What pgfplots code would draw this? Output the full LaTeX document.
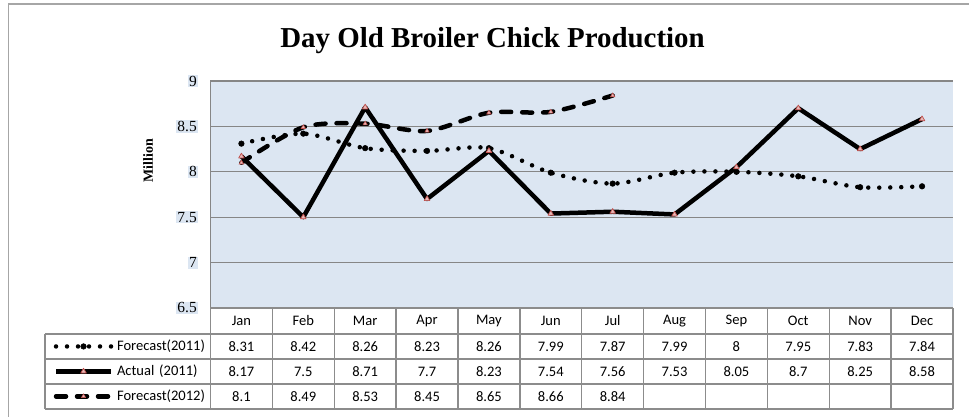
\documentclass[border=0pt]{standalone}
\usepackage{pgfplots}
\pgfplotsset{compat=1.18}
\usepackage{pgfplotstable}
\usepackage{fontspec}
\setmainfont{Liberation Serif}
\newfontfamily\carlito{Carlito}
\definecolor{plotbg}{HTML}{DCE6F2}
\definecolor{gridc}{HTML}{868686}
\definecolor{tabc}{HTML}{8C8C8C}
\definecolor{framec}{HTML}{A6A6A6}
\definecolor{mkfill}{HTML}{E6B9B8}
\definecolor{mkdraw}{HTML}{C0504D}

\pgfplotstableread{
idx F11 A11
0 8.31 8.17
1 8.42 7.5
2 8.26 8.71
3 8.23 7.7
4 8.26 8.23
5 7.99 7.54
6 7.87 7.56
7 7.99 7.53
8 8 8.05
9 7.95 8.7
10 7.83 8.25
11 7.84 8.58
}\dataA
\pgfplotstableread{
idx F12
0 8.1
1 8.49
2 8.53
3 8.45
4 8.65
5 8.66
6 8.84
}\dataB

\begin{document}
\begin{tikzpicture}
\begin{axis}[
  x=61.875bp, y=90.8bp,
  xmin=-0.5, xmax=11.5, ymin=6.5, ymax=9,
  clip=false,
  axis line style={draw=none},
  axis background/.style={fill=plotbg},
  ytick={6.5,7,7.5,8,8.5,9},
  ymajorgrids, grid style={gridc, line width=1.3bp},
  major tick length=0pt,
  xtick={0,...,11},
  xticklabels={Jan,Feb,Mar,Apr,May,Jun,Jul,Aug,Sep,Oct,Nov,Dec},
  xticklabel style={font=\carlito\fontsize{14.6}{14.6}\selectfont, anchor=center, yshift=-13bp},
  yticklabel style={font=\fontsize{15.5}{15.5}\selectfont, fill=plotbg, inner sep=1bp, xshift=-12.5bp},
  /pgf/number format/assume math mode=true,
  legend image code/.code={\path[draw=none, fill=none] (-3bp,0bp) rectangle (58bp,9bp);
    \draw[mark repeat=2, mark phase=2, #1] plot coordinates {(0bp,4.5bp) (27.5bp,4.5bp) (55bp,4.5bp)};},
  legend cell align=left,
  legend style={at={(axis cs:-3.045,6.214)}, anchor=north west, draw=none, fill=none,
    inner sep=0pt, outer sep=0pt, row sep=0pt,
    font=\carlito\fontsize{14.6}{14.6}\selectfont,
    nodes={inner sep=0pt, text height=17bp, text depth=8bp, text width=92bp, align=left, anchor=base west},
    /tikz/every odd column/.append style={column sep=3bp}},
]
\addplot[black, line width=4.5bp, line cap=round, dash pattern=on 0bp off 11bp, smooth,
  mark=*, mark size=2.8bp, mark options={solid, fill=black, line width=0.5bp}]
  table[x=idx, y=F11] {\dataA};
\addlegendentry{Forecast(2011)}
\addplot[black, line width=4.5bp, line join=round,
  mark=triangle*, mark size=3.2bp, mark options={fill=mkfill, draw=mkdraw, line width=0.7bp}]
  table[x=idx, y=A11] {\dataA};
\addlegendentry{Actual (2011)}
\addplot[black, line width=4.5bp, line cap=round, dash pattern=on 10bp off 11bp, smooth,
  mark=triangle*, mark size=2.5bp, mark options={solid, fill=mkfill, draw=mkdraw, line width=0.6bp}]
  table[x=idx, y=F12] {\dataB};
\addlegendentry{Forecast(2012)}

% data table text
\addplot[forget plot, draw=none, mark=none, nodes near coords, point meta=explicit symbolic,
  every node near coord/.append style={anchor=center, font=\carlito\fontsize{14.6}{14.6}\selectfont}]
  table[x=idx, y expr=6.076, meta=F11] {\dataA};
\addplot[forget plot, draw=none, mark=none, nodes near coords, point meta=explicit symbolic,
  every node near coord/.append style={anchor=center, font=\carlito\fontsize{14.6}{14.6}\selectfont}]
  table[x=idx, y expr=5.801, meta=A11] {\dataA};
\addplot[forget plot, draw=none, mark=none, nodes near coords, point meta=explicit symbolic,
  every node near coord/.append style={anchor=center, font=\carlito\fontsize{14.6}{14.6}\selectfont}]
  table[x=idx, y expr=5.526, meta=F12] {\dataB};

% left axis line
\draw[gridc, line width=1.3bp] (axis cs:-0.5,6.5) -- (axis cs:-0.5,9);
% table rules
\draw[tabc, line width=1.3bp] (axis cs:-0.5,6.5) -- (axis cs:11.5,6.5);
\pgfplotsinvokeforeach{6.214,5.938,5.663,5.388}{
  \draw[tabc, line width=1.3bp] (axis cs:-3.175,#1) -- (axis cs:11.5,#1);
}
\pgfplotsinvokeforeach{-0.5,0.5,...,11.5}{
  \draw[tabc, line width=1.3bp] (axis cs:#1,6.5) -- (axis cs:#1,5.388);
}
\draw[tabc, line width=1.3bp] (axis cs:-3.175,6.214) -- (axis cs:-3.175,5.388);

% title and y label
\node[font=\bfseries\fontsize{29}{29}\selectfont, anchor=base] at (axis cs:4.058,9.374) {Day Old Broiler Chick Production};
\node[rotate=90, font=\bfseries\fontsize{14}{14}\selectfont] at (axis cs:-1.510,8.122) {Million};

% outer frame
\draw[framec, line width=1.5bp] (axis cs:-3.765,5.300) -- (axis cs:-3.765,9.848) -- (axis cs:11.759,9.848);

\coordinate (imgTL) at (axis cs:-3.902,9.892);
\coordinate (imgBR) at (axis cs:11.759,5.300);
\end{axis}
\pgfresetboundingbox
\path[use as bounding box] (imgTL) rectangle (imgBR);
\end{tikzpicture}
\end{document}
